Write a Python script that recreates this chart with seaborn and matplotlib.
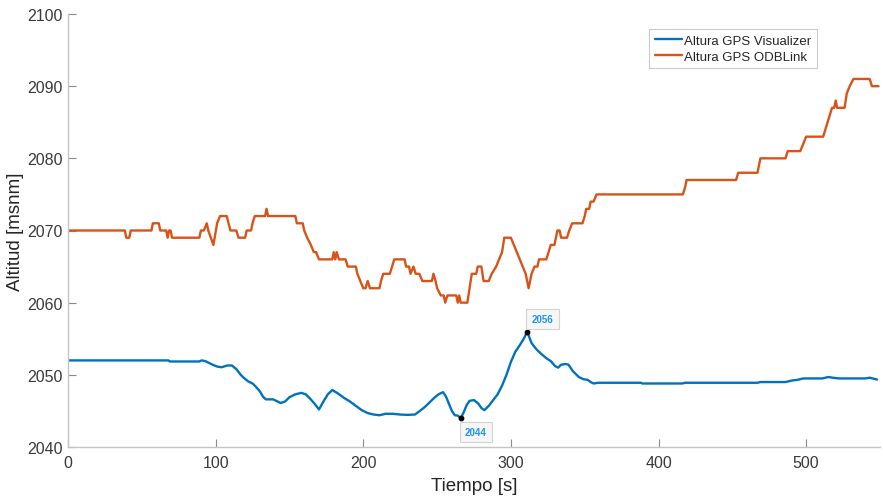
import matplotlib
matplotlib.use("Agg")
import matplotlib.pyplot as plt
import pandas as pd
import seaborn as sns

# Altitude from the OBD app (integer-resolution GPS), breakpoints (s, msnm)
odb_t = [0, 38.5, 39.5, 41.5, 42.5, 56.5, 57.5, 61.5, 62.5, 66.5, 67.5, 68.5, 69.5, 70.5,
         89, 90, 92, 94, 95, 98.5, 101, 103, 107.5, 110, 114, 115.5, 120, 121, 124, 125,
         126.5, 133.5, 134.5, 135.5, 154, 155, 159, 160, 162, 164.5, 166.5, 168, 170, 179,
         180, 181, 182, 183.5, 188, 189.5, 195, 196, 198, 200, 201.5, 203, 204.5, 211, 212,
         213.5, 218, 219.5, 221, 228, 229, 231, 232, 234, 235.5, 238, 240, 246.5, 247.5,
         249, 250, 252.5, 254.5, 255.5, 257, 263, 264, 265, 266, 270.5, 272, 273.5, 276.5,
         277.5, 280, 281.5, 285, 287, 290, 292, 294, 295.5, 300, 302, 304, 306, 308, 310,
         312, 314, 316, 318, 319, 324, 325.5, 327, 329.5, 330.5, 331.5, 333, 334, 338,
         339.5, 341.5, 348.5, 350, 351, 353, 354, 356, 358, 416.5, 418, 419, 452.5, 454,
         467, 469, 486, 487.5, 496, 498, 500, 511.5, 513, 514.5, 516, 517.5, 519, 520, 521,
         526, 527.5, 529.5, 532, 543, 544.5, 549]
odb_alt = [2070, 2070, 2069, 2069, 2070, 2070, 2071, 2071, 2070, 2070, 2069, 2070, 2070, 2069,
           2069, 2070, 2070, 2071, 2070, 2068, 2071, 2072, 2072, 2070, 2070, 2069, 2069, 2070,
           2070, 2071, 2072, 2072, 2073, 2072, 2072, 2071, 2071, 2070, 2069, 2068, 2067, 2067,
           2066, 2066, 2067, 2066, 2067, 2066, 2066, 2065, 2065, 2064, 2063, 2062, 2062, 2063,
           2062, 2062, 2063, 2064, 2064, 2065, 2066, 2066, 2065, 2065, 2064, 2065, 2064, 2064,
           2063, 2063, 2064, 2063, 2062, 2061, 2061, 2060, 2061, 2061, 2060, 2061, 2060, 2060,
           2062, 2064, 2064, 2065, 2065, 2063, 2063, 2064, 2065, 2066, 2067, 2069, 2069, 2068,
           2067, 2066, 2065, 2064, 2062, 2064, 2065, 2065, 2066, 2066, 2067, 2068, 2068, 2069,
           2070, 2070, 2069, 2069, 2070, 2071, 2071, 2072, 2073, 2073, 2074, 2074, 2075, 2075,
           2076, 2077, 2077, 2078, 2078, 2080, 2080, 2081, 2081, 2082, 2083, 2083, 2084, 2085,
           2086, 2087, 2087, 2088, 2087, 2087, 2089, 2090, 2091, 2091, 2090, 2090]

# Altitude from GPS Visualizer (smoothed elevation profile)
vis_t = [0, 68, 69, 89, 90.5, 93, 98, 101, 104, 108, 111, 114, 117, 119, 122, 125, 127, 130,
         132, 134, 139, 142, 144, 147, 150, 154, 158, 161, 164, 167, 170, 173, 176, 179, 183,
         187, 191, 195, 199, 203, 207, 211, 215, 220, 225, 230, 235, 239, 242, 245, 248, 251,
         254, 256, 258, 260, 262, 264, 266, 268, 270, 272, 275, 278, 280, 282, 285, 288, 291,
         294, 297, 300, 303, 306, 309, 311, 314, 317, 320, 324, 327, 330, 332, 334, 337, 339,
         342, 346, 349, 352, 354, 356, 359, 388, 389, 416, 418, 467, 469, 486, 490, 494, 498,
         511, 515, 518, 522, 540, 543, 545, 548]
vis_alt = [2052, 2052, 2051.85, 2051.85, 2052.0, 2051.9, 2051.4, 2051.15, 2051.05, 2051.3,
           2051.3, 2050.8, 2050.0, 2049.6, 2049.1, 2048.8, 2048.4, 2047.7, 2047.0, 2046.6,
           2046.6, 2046.3, 2046.1, 2046.3, 2046.9, 2047.3, 2047.5, 2047.3, 2046.7, 2046.0,
           2045.2, 2046.3, 2047.3, 2047.9, 2047.4, 2046.8, 2046.3, 2045.7, 2045.1, 2044.7,
           2044.5, 2044.4, 2044.6, 2044.6, 2044.5, 2044.45, 2044.5, 2045.1, 2045.6, 2046.2,
           2046.8, 2047.3, 2047.6, 2047.0, 2046.0, 2045.0, 2044.4, 2044.35, 2044.0, 2044.8,
           2045.8, 2046.4, 2046.5, 2046.0, 2045.4, 2045.1, 2045.7, 2046.5, 2047.3, 2048.5,
           2050.0, 2051.8, 2053.2, 2054.1, 2055.1, 2056.0, 2054.4, 2053.6, 2053.0, 2052.3,
           2051.9, 2051.2, 2051.0, 2051.4, 2051.5, 2051.4, 2050.5, 2049.7, 2049.4, 2049.3,
           2049.0, 2048.8, 2048.9, 2048.9, 2048.8, 2048.8, 2048.9, 2048.9, 2049.0, 2049.0,
           2049.2, 2049.3, 2049.5, 2049.5, 2049.7, 2049.6, 2049.5, 2049.5, 2049.6, 2049.5,
           2049.35]

series_names = ["Altura GPS Visualizer", "Altura GPS ODBLink"]
series_colors = ["#0072BD", "#D95319"]

# Data tips: (time, altitude)
tips_t = [266, 311]
tips_alt = [2044, 2056]

x_ticks = [0, 100, 200, 300, 400, 500]
y_ticks = [2040, 2050, 2060, 2070, 2080, 2090, 2100]

df = pd.concat([
    pd.DataFrame({"t": vis_t, "alt": vis_alt, "serie": series_names[0]}),
    pd.DataFrame({"t": odb_t, "alt": odb_alt, "serie": series_names[1]}),
], ignore_index=True)

sns.set_style("white")
plt.rcParams["font.family"] = ["Liberation Sans", "DejaVu Sans"]

fig = plt.figure(figsize=(8.83, 5.02), dpi=100)
ax = fig.add_axes([68 / 883, 1 - 448 / 502, 812 / 883, 433 / 502])

sns.lineplot(data=df, x="t", y="alt", hue="serie", hue_order=series_names,
             palette=series_colors, estimator=None, sort=False, linewidth=1.7, ax=ax)

ax.set_xlim(0, 550)
ax.set_ylim(2040, 2100)
ax.set_xticks(x_ticks)
ax.set_yticks(y_ticks)
ax.set_xlabel("Tiempo [s]", fontsize=13.5, color="#262626", labelpad=5)
ax.set_ylabel("Altitud [msnm]", fontsize=13.5, color="#262626", labelpad=2)

for side in ("top", "right"):
    ax.spines[side].set_visible(False)
for side in ("left", "bottom"):
    ax.spines[side].set_color("#c4c4c4")
    ax.spines[side].set_linewidth(1.0)
ax.tick_params(axis="both", direction="in", length=6, width=0.8, color="#8a8a8a",
               labelsize=11.5, labelcolor="#3a3a3a")
ax.tick_params(axis="x", pad=6)
ax.tick_params(axis="y", pad=4)
ax.tick_params(left=True, bottom=True)

# Data tip markers and labels
ax.scatter(tips_t, tips_alt, s=10, color="black", zorder=5)
tip_offsets = [(11, -10), (11, 9)]
for t, a, off in zip(tips_t, tips_alt, tip_offsets):
    ax.annotate(f"{a:.0f}", xy=(t, a), xytext=off, textcoords="offset points",
                ha="center", va="center", fontsize=7, fontweight="bold", color="#1f93e8",
                bbox=dict(boxstyle="square,pad=0.55", facecolor="#f6f6f6",
                          edgecolor="#d2d2d2", linewidth=0.8), zorder=6)

leg = ax.legend(loc="upper right", bbox_to_anchor=(0.922, 0.965), borderaxespad=0,
                fontsize=9.5, frameon=True, fancybox=False, handlelength=2.1,
                handletextpad=0.15, borderpad=0.4, labelspacing=0.3)
leg.get_frame().set_edgecolor("#bdbdbd")
leg.get_frame().set_linewidth(0.8)
for line in leg.get_lines():
    line.set_linewidth(1.7)

fig.savefig("out.png", dpi=100)
